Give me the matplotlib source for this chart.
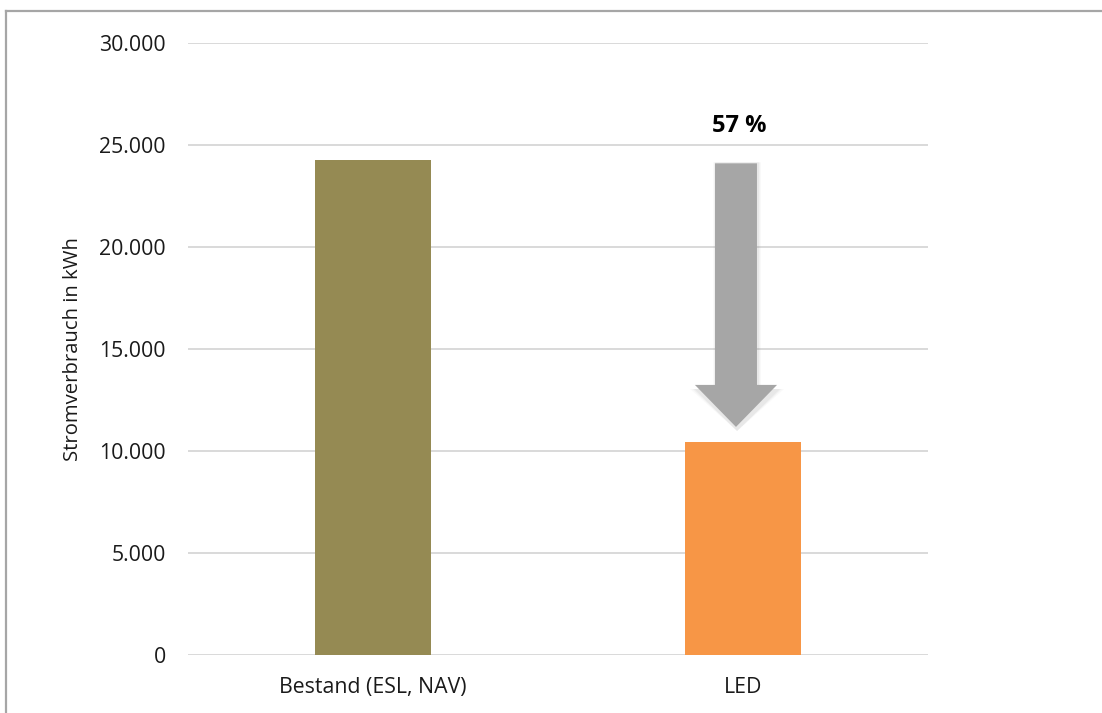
import matplotlib
matplotlib.use("Agg")
import matplotlib.pyplot as plt
from matplotlib.lines import Line2D
from matplotlib.patches import FancyArrow
from matplotlib.ticker import FuncFormatter

categories = ["Bestand (ESL, NAV)", "LED"]
consumption_kwh = [24250, 10440]
bar_colors = ["#958A53", "#F79646"]
y_ticks = [0, 5000, 10000, 15000, 20000, 25000, 30000]

plt.rcParams["font.family"] = ["Open Sans", "DejaVu Sans"]

fig = plt.figure(figsize=(11.02, 7.13), dpi=100)
ax = fig.add_axes([188 / 1102, 58 / 713, 740 / 1102, 612 / 713])

x = list(range(len(categories)))
ax.bar(x, consumption_kwh, width=0.314, color=bar_colors, zorder=3)

ax.set_xlim(-0.5, len(categories) - 0.5)
ax.set_ylim(0, 30000)
ax.set_yticks(y_ticks)
ax.yaxis.set_major_formatter(FuncFormatter(lambda v, p: f"{int(v):,}".replace(",", ".")))
ax.set_xticks(x)
ax.set_xticklabels(categories)
ax.tick_params(axis="both", length=0, labelsize=15.3, colors="#1A1A1A")
ax.tick_params(axis="y", pad=16)
ax.tick_params(axis="x", pad=16)
ax.grid(axis="y", color="#D9D9D9", linewidth=1.4, zorder=0)
for s in ax.spines.values():
    s.set_visible(False)

ax.set_ylabel("Stromverbrauch in kWh", fontsize=14.6, color="#1A1A1A")
ax.yaxis.set_label_coords(-0.142, 0.5)

# reduction arrow from the old consumption level down to the LED bar
arrow_x = 0.981
start = consumption_kwh[0] - 150
end = consumption_kwh[1] + 740
head_len = 2060
for grow, a in [(0.016, 0.04), (0.010, 0.06), (0.005, 0.08)]:
    ax.add_patch(FancyArrow(arrow_x + 0.003, start + 50, 0, end - start - 250,
                            width=0.1135 + grow, head_width=0.222 + grow * 2,
                            head_length=head_len, length_includes_head=True,
                            color="#7F7F7F", alpha=a, linewidth=0, zorder=3))
ax.add_patch(FancyArrow(arrow_x, start, 0, end - start, width=0.1135, head_width=0.222,
                        head_length=head_len, length_includes_head=True,
                        color="#A6A6A6", linewidth=0, zorder=4))

reduction = round((1 - consumption_kwh[1] / consumption_kwh[0]) * 100)
ax.text(0.99, consumption_kwh[0] + 1700, f"{reduction} %", ha="center", va="center",
        fontsize=17, fontweight="bold", color="#000000")

# outer frame (top and left edges)
frame_color = "#A6A6A6"
fig.add_artist(Line2D([6 / 1102, 1], [1 - 11 / 713, 1 - 11 / 713],
                      transform=fig.transFigure, color=frame_color, linewidth=1.6))
fig.add_artist(Line2D([6 / 1102, 6 / 1102], [0, 1 - 11 / 713],
                      transform=fig.transFigure, color=frame_color, linewidth=1.6))

fig.savefig("out.png", dpi=100)
